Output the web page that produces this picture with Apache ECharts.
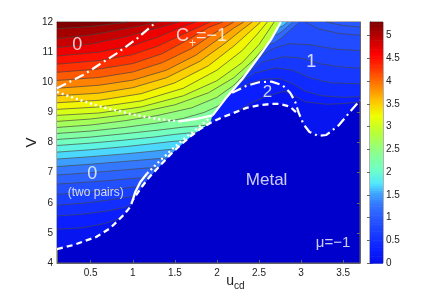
<!DOCTYPE html>
<html><head><meta charset="utf-8">
<script src="https://cdn.jsdelivr.net/npm/echarts@6/dist/echarts.min.js"></script>
<style>html,body{margin:0;padding:0;background:#fff}#c{width:436px;height:297px}</style>
</head><body><div id="c"></div>
<script>
// ---- tick labels ----
const xTicks = [0.5, 1, 1.5, 2, 2.5, 3, 3.5];
const yTicks = [4, 5, 6, 7, 8, 9, 10, 11, 12];
const cbTicks = [0, 0.5, 1, 1.5, 2, 2.5, 3, 3.5, 4, 4.5, 5];

// ---- phase boundaries (u_cd, V) ----
const metalEdge = [[0.1,4.46],[0.3,4.6],[0.57,4.87],[0.73,5.15],[0.89,5.59],[0.97,5.86],[1.0,6.09],[1.1,6.5],[1.2,6.86],[1.32,7.22],[1.44,7.58],[1.56,7.9],[1.68,8.19],[1.8,8.45],[1.92,8.65],[2.05,8.82],[2.19,8.97],[2.35,9.15],[2.51,9.24],[2.65,9.28],[2.75,9.28],[2.87,9.19],[2.96,8.95],[3.03,8.6],[3.1,8.35],[3.2,8.22],[3.3,8.25],[3.45,8.58],[3.6,9.08],[3.7,9.4]];
const divider = [[1.92,8.65],[1.95,8.9],[2.1,9.45],[2.3,10.1],[2.5,10.85],[2.65,11.45],[2.76,12]];
const dashDotTop = [[0.1,9.8],[0.41,10.24],[0.81,10.96],[1.05,11.45],[1.28,12]];
const dottedTop = [[0.1,9.68],[0.35,9.43],[0.61,9.2],[1.0,8.93],[1.3,8.78],[1.55,8.7]];
const solidTop = [[1.55,8.7],[1.75,8.78],[1.95,8.9]];
const solidLow = [[1.0,6.09],[1.03,6.36],[1.09,6.69],[1.17,6.97]];
const dottedLow = [[1.17,6.97],[1.3,7.33],[1.45,7.73],[1.62,8.15],[1.78,8.5],[1.9,8.78]];
const arc2 = [[2.18,9.65],[2.35,9.88],[2.5,10.0],[2.65,10.02],[2.78,9.9],[2.87,9.65],[2.93,9.35],[2.97,9.0],[3.03,8.6],[3.1,8.35],[3.2,8.22],[3.3,8.25],[3.45,8.58],[3.6,9.08],[3.7,9.4]];

// ---- contour levels, left domain ----
const levels = [0.2,0.4,0.6,0.8,1.0,1.2,1.4,1.6,1.8,2.0,2.2,2.4,2.6,2.8,3.0,3.2,3.4,3.6,3.8,4.0,4.2,4.4,4.6,4.8,5.0,5.2];
const lev02 = [[0.1,5.12],[0.4,5.17],[0.65,5.3],[0.82,5.45],[0.9,5.62]];
const lev04 = [[0.1,5.56],[0.4,5.62],[0.7,5.73],[0.88,5.83],[0.975,5.9]];
const lev06 = [[0.1,5.92],[0.4,5.98],[0.7,6.08],[0.9,6.17],[1.03,6.22]];
const lev08 = [[0.1,6.28],[0.5,6.35],[0.8,6.45],[1.0,6.52],[1.11,6.54]];
const lev10 = [[0.1,6.62],[0.5,6.69],[0.85,6.77],[1.05,6.82],[1.19,6.83]];
const lev12 = [[0.1,6.92],[0.5,7.0],[0.9,7.09],[1.15,7.15],[1.3,7.16]];
const lev14 = [[0.1,7.2],[0.5,7.28],[0.9,7.37],[1.2,7.44],[1.41,7.49]];
const lev16 = [[0.1,7.45],[0.5,7.53],[0.9,7.62],[1.2,7.7],[1.4,7.76],[1.52,7.79]];
const lev18 = [[0.1,7.68],[0.5,7.76],[0.9,7.86],[1.2,7.95],[1.45,8.03],[1.63,8.07]];
const lev20 = [[0.1,7.9],[0.5,7.98],[0.9,8.08],[1.25,8.18],[1.5,8.27],[1.75,8.34]];
const lev22 = [[0.1,8.1],[0.5,8.18],[0.9,8.29],[1.3,8.41],[1.6,8.51],[1.87,8.57]];
const lev24 = [[0.1,8.3],[0.5,8.38],[0.9,8.5],[1.3,8.65],[1.6,8.8],[1.85,9.0],[2.02,9.22],[2.16,9.64]];
const lev26 = [[0.1,8.5],[0.5,8.58],[0.9,8.72],[1.3,8.9],[1.7,9.15],[2.0,9.5],[2.2,9.9],[2.4,10.47]];
const lev28 = [[0.1,8.7],[0.5,8.78],[1.0,8.95],[1.5,9.25],[1.9,9.65],[2.2,10.15],[2.42,10.7],[2.62,11.33]];
const lev30 = [[0.1,8.9],[0.6,8.98],[1.1,9.18],[1.6,9.55],[2.0,10.05],[2.3,10.65],[2.5,11.25],[2.68,12]];
const lev32 = [[0.1,9.1],[0.6,9.18],[1.1,9.38],[1.6,9.8],[2.0,10.4],[2.3,11.05],[2.48,11.6],[2.6,12]];
const lev34 = [[0.1,9.32],[0.6,9.4],[1.1,9.62],[1.5,9.98],[1.9,10.55],[2.2,11.2],[2.4,11.7],[2.52,12]];
const lev36 = [[0.1,9.55],[0.6,9.64],[1.0,9.82],[1.4,10.15],[1.8,10.7],[2.1,11.3],[2.3,11.75],[2.42,12]];
const lev38 = [[0.1,9.8],[0.6,9.9],[1.0,10.07],[1.4,10.4],[1.75,10.9],[2.0,11.4],[2.2,11.8],[2.32,12]];
const lev40 = [[0.1,10.06],[0.6,10.16],[1.0,10.34],[1.35,10.65],[1.7,11.12],[1.95,11.6],[2.2,12]];
const lev42 = [[0.1,10.33],[0.6,10.44],[1.0,10.62],[1.35,10.95],[1.65,11.4],[1.9,11.82],[2.07,12]];
const lev44 = [[0.1,10.6],[0.6,10.72],[1.0,10.92],[1.3,11.2],[1.6,11.6],[1.92,12]];
const lev46 = [[0.1,10.87],[0.6,11.0],[1.0,11.22],[1.3,11.5],[1.55,11.8],[1.75,12]];
const lev48 = [[0.1,11.15],[0.5,11.27],[0.9,11.5],[1.2,11.73],[1.55,12]];
const lev50 = [[0.1,11.45],[0.5,11.57],[0.8,11.72],[1.05,11.85],[1.3,12]];
const lev52 = [[0.1,11.78],[0.5,11.85],[0.95,12]];
const leftContours = [lev02,lev04,lev06,lev08,lev10,lev12,lev14,lev16,lev18,lev20,lev22,lev24,lev26,lev28,lev30,lev32,lev34,lev36,lev38,lev40,lev42,lev44,lev46,lev48,lev50,lev52];

// ---- contours, right domain ----
const r1 = [[2.2,8.98],[2.4,9.3],[2.6,9.55],[2.8,9.7],[2.92,9.55],[3.05,9.35],[3.3,9.27],[3.5,9.29],[3.7,9.35]];
const r2 = [[2.15,9.61],[2.35,9.92],[2.55,10.1],[2.75,10.12],[2.9,9.95],[3.05,9.7],[3.25,9.55],[3.5,9.5],[3.7,9.52]];
const r3 = [[2.25,9.94],[2.45,10.3],[2.7,10.48],[2.9,10.4],[3.1,10.15],[3.35,9.98],[3.7,9.95]];
const r4 = [[2.35,10.29],[2.55,10.68],[2.8,10.85],[3.0,10.8],[3.25,10.6],[3.5,10.5],[3.7,10.47]];
const r5 = [[2.47,10.74],[2.65,11.1],[2.85,11.28],[3.1,11.25],[3.4,11.1],[3.7,11.05]];
const r6 = [[3.05,12],[3.2,11.78],[3.45,11.62],[3.7,11.56]];
const r7 = [[3.3,12],[3.5,11.88],[3.7,11.83]];
const rightContours = [r1,r2,r3,r4,r5,r6,r7];
const rightLevels = [0.3,0.45,0.6,0.72,0.85,0.95,1.0];
const d3 = [[2.98,12],[2.9,11.8],[2.78,11.5],[2.68,11.3],[2.6,11.25]];
const d2 = [[2.9,12],[2.83,11.82],[2.74,11.62],[2.67,11.55]];
const d1 = [[2.84,12],[2.78,11.86],[2.72,11.8]];
const topContours = [d3, d2, d1];
const topLevels = [1.15, 1.4, 1.65];

// ---- colormap ----
const cmapV = [0,0.3,0.7,1.0,1.3,1.55,1.75,2.05,2.45,2.85,3.25,3.6,3.95,4.3,4.6,4.95,5.3];
const cmapC = ['#0510E8','#0A1EFF','#1A40FF','#2858FF','#3478FF','#40A8FF','#50E6FF','#6EFFC8','#8CFF8C','#B4FF3C','#F0FF00','#FFBE00','#FF7800','#FF3200','#FF0000','#C00000','#800000'];
const metalColor = '#0000CD';
function h2r(h){return [parseInt(h.slice(1,3),16),parseInt(h.slice(3,5),16),parseInt(h.slice(5,7),16)];}
function cmap(v){
  v = Math.max(cmapV[0], Math.min(cmapV[cmapV.length-1], v));
  let i = 0; while (i < cmapV.length-2 && v > cmapV[i+1]) i++;
  const t = (v-cmapV[i])/(cmapV[i+1]-cmapV[i]);
  const a = h2r(cmapC[i]), b = h2r(cmapC[i+1]);
  return 'rgb(' + a.map((x,k)=>Math.round(x+(b[k]-x)*t)).join(',') + ')';
}

// ---- region outlines assembled from the boundaries ----
function divAt(u){
  for (let i=0;i<divider.length-1;i++){
    const p=divider[i], q=divider[i+1];
    if (u>=p[0] && u<=q[0]) return p[1]+(q[1]-p[1])*(u-p[0])/(q[0]-p[0]);
  }
  return NaN;
}
function leftRegion(c){
  const e = c[c.length-1];
  let tail = [];
  if (e[1] >= 12) tail = [];
  else if (e[0] < 1.92) tail = metalEdge.filter(p=>p[0]>e[0] && p[0]<=1.92).concat(divider.filter(p=>p[0]>1.92));
  else tail = divider.filter(p=>p[1]>e[1]);
  return c.concat(tail, [[0.1,12]]);
}
function rightRegion(c){
  const s = c[0];
  let head;
  if (s[1] >= 12) head = [];
  else if (Math.abs(s[1]-divAt(s[0])) < 0.06) head = divider.filter(p=>p[1]>s[1]).reverse();
  else head = divider.slice().reverse().concat(metalEdge.filter(p=>p[0]>1.92 && p[0]<s[0]));
  return head.concat(c, [[3.7,12]]);
}
function topRegion(c){
  const e = c[c.length-1];
  return divider.filter(p=>p[1]>e[1]).reverse().concat(c.slice().reverse());
}

const polys = [];
polys.push({pts: metalEdge.concat([[3.7,12],[0.1,12]]), color: cmap(0.1)});
leftContours.forEach((c,i)=>polys.push({pts:leftRegion(c), color:cmap(levels[i]+0.1)}));
rightContours.forEach((c,i)=>polys.push({pts:rightRegion(c), color:cmap(rightLevels[i])}));
topContours.forEach((c,i)=>polys.push({pts:topRegion(c), color:cmap(topLevels[i])}));

const series = [];
series.push({type:'custom', xAxisIndex:0, yAxisIndex:0, silent:true, animation:false, z:2, clip:true,
  data: polys.map((p,i)=>[p.pts[0][0], p.pts[0][1], i]), encode:{x:0, y:1},
  renderItem:function(params, api){
    const P = polys[api.value(2)];
    return {type:'polygon', shape:{points:P.pts.map(q=>api.coord(q))}, style:{fill:P.color, stroke:P.color, lineWidth:0.3}};
  }});

function strokeSeries(data){
  return {type:'line', data:data, symbol:'none', silent:true, animation:false, z:3,
    lineStyle:{color:'rgba(70,70,70,0.85)', width:0.8}};
}
function whiteSeries(data, type, width){
  return {type:'line', data:data, symbol:'none', silent:true, animation:false, z:4,
    lineStyle:{color:'#ffffff', width:width||2.2, type:type, cap:'butt'}};
}
leftContours.concat(rightContours, topContours).forEach(c=>series.push(strokeSeries(c)));

series.push(whiteSeries(metalEdge.filter(p=>p[0]<=2.96), [6,4], 2.3));
series.push(whiteSeries(solidLow, 'solid', 2.3));
series.push(whiteSeries(dottedLow, [2,3], 2.3));
series.push(whiteSeries(dottedTop, [2,3], 2.5));
series.push(whiteSeries(solidTop, 'solid', 2.3));
series.push(whiteSeries(divider.filter(p=>p[0]>1.92), 'solid', 2.2));
series.push(whiteSeries(dashDotTop, [10,4,2,4], 2.2));
series.push(whiteSeries(arc2, [10,4,2,4], 2.2));

// ---- text annotations ----
const FONT = "'Liberation Sans', Arial, Helvetica, sans-serif";
const notes = [
  {pos:[0.34,11.24], text:'0', size:18},
  {pos:[1.816,11.52], text:'{a|C}{b|+}{a|=−1}', size:18},
  {pos:[3.12,10.68], text:'1', size:18},
  {pos:[2.6,9.67], text:'2', size:17},
  {pos:[0.52,6.95], text:'0', size:18},
  {pos:[0.56,6.35], text:'(two pairs)', size:12},
  {pos:[2.59,6.75], text:'Metal', size:17},
  {pos:[3.38,4.66], text:'μ=−1', size:15}
];
series.push({type:'scatter', symbolSize:1, silent:true, animation:false, z:10,
  itemStyle:{color:'rgba(0,0,0,0)'},
  data: notes.map(n=>({value:n.pos, label:{show:true, position:'inside', formatter:n.text,
    color:'#fff', fontSize:n.size, fontFamily:FONT,
    rich:{a:{fontSize:18,color:'#fff',fontFamily:FONT}, b:{fontSize:12,color:'#fff',fontFamily:FONT,padding:[14,0,0,0]}}}}))});

// ---- colorbar ----
const cbSegs = [];
for (let k=0;k<106;k++){ cbSegs.push([0, k*0.05, Math.min((k+1)*0.05, 5.3)]); }
series.push({type:'custom', xAxisIndex:2, yAxisIndex:2, silent:true, animation:false, data:cbSegs,
  encode:{x:0, y:1},
  renderItem:function(params, api){
    const lo=api.value(1), hi=api.value(2);
    const a=api.coord([0,lo]), b=api.coord([1,hi]);
    return {type:'rect', shape:{x:a[0], y:b[1], width:b[0]-a[0], height:a[1]-b[1]+0.6}, style:{fill:cmap((lo+hi)/2)}};
  }});

const axisCol = '#666';
const labCol = '#222';
const chart = echarts.init(document.getElementById('c'), null, {renderer:'canvas'});
chart.setOption({
  animation:false,
  backgroundColor:'#ffffff',
  grid:[
    {left:57, top:22, width:303, height:241, show:true, backgroundColor:metalColor, borderColor:axisCol, borderWidth:1},
    {left:370, top:22, width:13, height:241, show:true, borderColor:axisCol, borderWidth:1}
  ],
  xAxis:[
    {type:'value', gridIndex:0, min:0.1, max:3.7, position:'bottom',
      name:'{u|u}{s|cd}', nameLocation:'middle', nameGap:9, nameMoveOverlap:false,
      nameTextStyle:{padding:[0,0,0,54], rich:{u:{fontSize:14,color:labCol,fontFamily:FONT}, s:{fontSize:10,color:labCol,fontFamily:FONT,padding:[9,0,0,0]}}},
      axisLine:{show:true, lineStyle:{color:axisCol}},
      axisTick:{show:true, inside:true, length:3, customValues:xTicks, lineStyle:{color:axisCol}},
      axisLabel:{show:true, customValues:xTicks, fontSize:10, color:labCol, fontFamily:FONT, margin:5},
      splitLine:{show:false}},
    {type:'value', gridIndex:0, min:0.1, max:3.7, position:'top',
      axisLine:{show:true, lineStyle:{color:axisCol}},
      axisTick:{show:true, inside:true, length:3, customValues:xTicks, lineStyle:{color:axisCol}},
      axisLabel:{show:false}, splitLine:{show:false}},
    {type:'value', gridIndex:1, min:0, max:1, show:false}
  ],
  yAxis:[
    {type:'value', gridIndex:0, min:4, max:12, position:'left',
      name:'V', nameLocation:'middle', nameGap:18, nameMoveOverlap:false, nameTextStyle:{fontSize:15, color:labCol, fontFamily:FONT},
      axisLine:{show:true, lineStyle:{color:axisCol}},
      axisTick:{show:true, inside:true, length:3, customValues:yTicks, lineStyle:{color:axisCol}},
      axisLabel:{show:true, customValues:yTicks, fontSize:10, color:labCol, fontFamily:FONT, margin:4},
      splitLine:{show:false}},
    {type:'value', gridIndex:0, min:4, max:12, position:'right',
      axisLine:{show:true, lineStyle:{color:axisCol}},
      axisTick:{show:true, inside:true, length:3, customValues:yTicks, lineStyle:{color:axisCol}},
      axisLabel:{show:false}, splitLine:{show:false}},
    {type:'value', gridIndex:1, min:0, max:5.3, position:'right',
      axisLine:{show:true, lineStyle:{color:axisCol}},
      axisTick:{show:true, inside:true, length:3, customValues:cbTicks, lineStyle:{color:axisCol}},
      axisLabel:{show:true, customValues:cbTicks, fontSize:10, color:labCol, fontFamily:FONT, margin:3},
      splitLine:{show:false}},
    {type:'value', gridIndex:1, min:0, max:5.3, position:'left',
      axisLine:{show:true, lineStyle:{color:axisCol}},
      axisTick:{show:true, inside:true, length:3, customValues:cbTicks, lineStyle:{color:axisCol}},
      axisLabel:{show:false}, splitLine:{show:false}}
  ],
  series: series
});
</script></body></html>
